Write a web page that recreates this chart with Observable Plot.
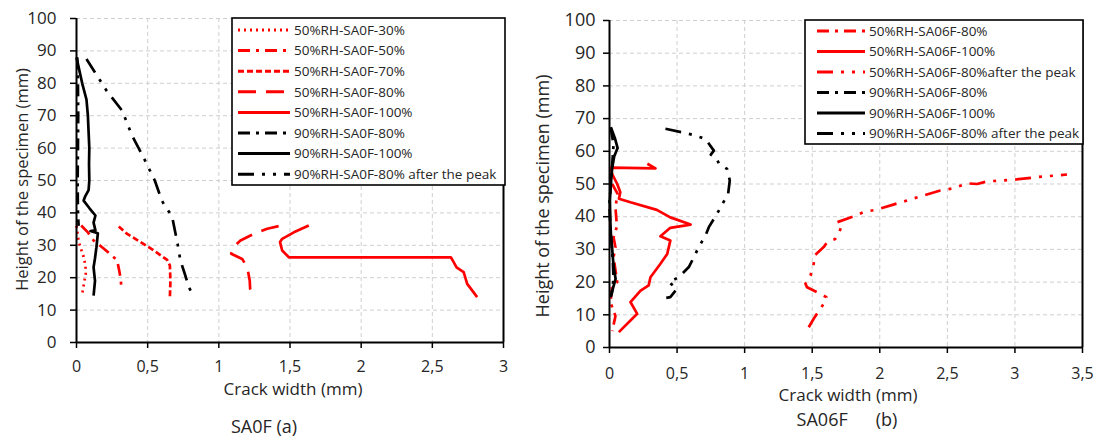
<!DOCTYPE html>
<html><head><meta charset="utf-8">
<script src="https://cdn.jsdelivr.net/npm/d3@7"></script>
<script src="https://cdn.jsdelivr.net/npm/@observablehq/plot@0.6"></script>
<style>
html,body{margin:0;padding:0;background:#fff;}
#wrap{position:relative;width:1100px;height:440px;overflow:hidden;background:#fff;}
#left{position:absolute;left:0;top:0;}
#right{position:absolute;left:520px;top:0;}
</style></head><body><div id="wrap"><div id="left"></div><div id="right"></div></div>
<script>
// ---------- tick labels / texts ----------
const xTicksA = [0, 0.5, 1, 1.5, 2, 2.5, 3];
const xTicksB = [0, 0.5, 1, 1.5, 2, 2.5, 3, 3.5];
const yTicks = [0, 10, 20, 30, 40, 50, 60, 70, 80, 90, 100];
const xLabel = "Crack width (mm)";
const yLabel = "Height of the specimen (mm)";
const captionA = "SA0F (a)";
const captionB = "SA06F      (b)";

// ---------- panel (a) SA0F : [crack width mm, height mm] ----------
const namesA = ["50%RH-SA0F-30%", "50%RH-SA0F-50%", "50%RH-SA0F-70%", "50%RH-SA0F-80%",
  "50%RH-SA0F-100%", "90%RH-SA0F-80%", "90%RH-SA0F-100%", "90%RH-SA0F-80% after the peak"];
const a50_30 = [[0.0,36],[0.016,31],[0.047,26.9],[0.063,23.8],[0.065,21],[0.056,19.1],[0.04,15]];
const a50_50 = [[0.033,36.1],[0.08,34],[0.12,31.5],[0.18,29.4],[0.234,27.4],[0.286,25.3],[0.30,22.2],[0.31,19.7],[0.316,16.6]];
const a50_70 = [[0.297,35.8],[0.356,33.5],[0.45,31],[0.543,28.4],[0.637,25.5],[0.656,23.8],[0.66,19.1],[0.656,13.8]];
const a50_80 = [[1.42,35.9],[1.34,35.1],[1.246,33.5],[1.152,31.5],[1.105,29.6],[1.087,27.4],[1.164,25.8],[1.2,23.2],[1.217,19.1],[1.22,16.6],[1.24,13.5]];
const a50_100 = [[1.632,36.1],[1.527,34],[1.445,32],[1.43,31],[1.445,28.4],[1.492,26.3],[2.63,26.3],[2.65,24.8],[2.67,23.2],[2.72,21.7],[2.745,18.1],[2.815,14]];
const a90_80 = [[0.005,88],[0.01,80],[0.012,70],[0.01,60],[0.008,50],[0.01,40],[0.015,36]];
const a90_100 = [[0.0,88],[0.02,84],[0.04,80],[0.07,75],[0.08,70],[0.085,65],[0.09,60],[0.088,55],[0.09,50],[0.085,47],[0.06,45],[0.05,43.8],[0.09,41.5],[0.133,39.2],[0.12,37],[0.133,34.6],[0.098,34.4],[0.15,33.7],[0.14,29.4],[0.13,26],[0.12,23.2],[0.13,19],[0.12,14.5]];
const a90_80peak = [[0.07,87.5],[0.21,77.8],[0.32,71.6],[0.39,63.9],[0.47,57.2],[0.55,50],[0.60,43.8],[0.625,41.8],[0.67,39.2],[0.71,30.5],[0.73,25.3],[0.76,21.3],[0.79,17],[0.82,14.5]];

// ---------- panel (b) SA06F ----------
const namesB = ["50%RH-SA06F-80%", "50%RH-SA06F-100%", "50%RH-SA06F-80%after the peak",
  "90%RH-SA06F-80%", "90%RH-SA06F-100%", "90%RH-SA06F-80% after the peak"];
const b50_80 = [[0.02,50],[0.06,47],[0.044,42.9],[0.055,37],[0.03,33.7],[0.044,30.6],[0.03,27.6],[0.057,20],[0.02,18.8],[0.007,13.8],[0.044,9.6],[0.02,5]];
const b50_100 = [[0.28,56.2],[0.34,54.8],[0.01,55],[0.02,53],[0.057,50],[0.08,47.5],[0.07,45.5],[0.155,44.4],[0.35,42.1],[0.45,39.8],[0.6,37.6],[0.45,36.6],[0.377,34],[0.45,32.7],[0.427,28.6],[0.377,25.6],[0.303,21.5],[0.29,19],[0.23,17.4],[0.155,13.9],[0.205,10.3],[0.168,8.8],[0.069,4.7]];
const b50_80peak = [[1.474,6.2],[1.511,8.8],[1.585,13.4],[1.605,15.4],[1.536,16.9],[1.462,18.4],[1.45,19.5],[1.487,22],[1.511,25.6],[1.516,28.1],[1.585,30.7],[1.61,32.2],[1.67,33.2],[1.696,34.8],[1.714,36.8],[1.684,38.3],[1.807,40.1],[1.88,41.4],[1.98,42.2],[2.10,43.7],[2.325,46.5],[2.448,48],[2.547,48.7],[2.646,50.2],[2.72,50],[2.794,50.8],[2.99,51.3],[3.163,52.1],[3.385,52.9]];
const b90_80 = [[0.01,67],[0.03,62],[0.02,56],[0.01,50],[0.0,44],[0.005,38],[0.015,32],[0.025,26],[0.03,21],[0.015,16]];
const b90_100 = [[0.01,67.4],[0.04,64],[0.06,61],[0.035,58.5],[0.02,55],[0.01,50],[0.003,45],[0.005,40],[0.01,35],[0.02,30],[0.03,25],[0.045,21],[0.025,18],[0.01,15.4]];
const b90_80peak = [[0.414,66.9],[0.562,65.6],[0.636,64.8],[0.71,63.8],[0.772,60.2],[0.75,59],[0.79,58],[0.81,56.2],[0.87,54.6],[0.89,51.1],[0.878,47],[0.833,43.7],[0.796,40.9],[0.735,36.8],[0.71,34.2],[0.66,30.7],[0.624,27.6],[0.587,24.6],[0.513,21.5],[0.439,20],[0.5,18],[0.45,15.4],[0.42,15.2]];

// ---------- styles ----------
const RED = "#ff0000", BLACK = "#000000";
const DASH_DOT = "12 6 3 6", DASH_DOT_DOT = "16 8 3 8 3 8";
const seriesA = [
  {name: namesA[0], data: a50_30, color: RED, dash: "2 4"},
  {name: namesA[1], data: a50_50, color: RED, dash: DASH_DOT},
  {name: namesA[2], data: a50_70, color: RED, dash: "6 3"},
  {name: namesA[3], data: a50_80, color: RED, dash: "18 10"},
  {name: namesA[4], data: a50_100, color: RED, dash: null},
  {name: namesA[5], data: a90_80, color: BLACK, dash: DASH_DOT},
  {name: namesA[6], data: a90_100, color: BLACK, dash: null},
  {name: namesA[7], data: a90_80peak, color: BLACK, dash: DASH_DOT_DOT}
];
const seriesB = [
  {name: namesB[0], data: b50_80, color: RED, dash: DASH_DOT},
  {name: namesB[1], data: b50_100, color: RED, dash: null},
  {name: namesB[2], data: b50_80peak, color: RED, dash: DASH_DOT_DOT},
  {name: namesB[3], data: b90_80, color: BLACK, dash: DASH_DOT},
  {name: namesB[4], data: b90_100, color: BLACK, dash: null},
  {name: namesB[5], data: b90_80peak, color: BLACK, dash: DASH_DOT_DOT}
];

const fmt = d => String(d).replace(".", ",");
const TXT = "#262626";

function panel(cfg) {
  const rows = cfg.series.flatMap(s => s.data.map(([w, h]) => ({name: s.name, w, h})));
  const lineMarks = cfg.series.map(s => Plot.line(rows.filter(r => r.name === s.name), {
    x: "w", y: "h", stroke: s.color, strokeWidth: 2.7,
    strokeDasharray: s.dash || undefined, strokeLinecap: "butt", strokeLinejoin: "round"
  }));
  const xMax = cfg.xTicks[cfg.xTicks.length - 1];
  const plot = Plot.plot({
    width: cfg.width, height: 440,
    marginLeft: cfg.mL, marginRight: cfg.mR, marginTop: cfg.mT, marginBottom: 440 - cfg.bottom,
    style: {fontFamily: "'Open Sans', sans-serif", fontSize: "16px", color: "#000", background: "#fff"},
    x: {domain: [0, xMax]},
    y: {domain: [0, 100]},
    marks: [
      Plot.gridX(cfg.xTicks, {stroke: "#cfcfcf", strokeOpacity: 1, strokeDasharray: "4 3", strokeWidth: 1}),
      Plot.gridY(yTicks, {stroke: "#cfcfcf", strokeOpacity: 1, strokeDasharray: "4 3", strokeWidth: 1}),
      ...lineMarks,
      Plot.ruleX([0], {stroke: "#000", strokeWidth: 2}),
      Plot.ruleX([xMax], {stroke: "#000", strokeWidth: 2}),
      Plot.ruleY([0], {stroke: "#000", strokeWidth: 2}),
      Plot.axisX(cfg.xTicks, {tickSize: 6, tickFormat: fmt, fontSize: 16, fill: TXT, label: null, strokeWidth: 1.5, text: null}),
      Plot.axisX(cfg.xTicks, {tickSize: 0, tickFormat: fmt, fontSize: 16, fill: TXT, label: null, dy: cfg.xDy}),
      Plot.axisY(yTicks, {tickSize: 6, fontSize: cfg.yFont, fill: TXT, label: null, strokeWidth: 1.5, text: null}),
      Plot.axisY(yTicks, {tickSize: 0, fontSize: cfg.yFont, fill: TXT, label: null, dx: cfg.yDx}),
      Plot.text([xLabel], {frameAnchor: "bottom", textAnchor: "middle", lineAnchor: "middle", dx: cfg.xLabDx, dy: cfg.xLabDy, fontSize: 17, fill: TXT}),
      Plot.text([cfg.caption], {frameAnchor: "bottom", textAnchor: "middle", lineAnchor: "middle", dx: cfg.capDx, dy: cfg.capDy, fontSize: 18, fill: TXT}),
      Plot.text([yLabel], {frameAnchor: "left", textAnchor: "middle", lineAnchor: "middle", rotate: -90, dx: cfg.yLabDx, dy: cfg.yLabDy, fontSize: cfg.yLabFont, fill: TXT})
    ]
  });
  // legend (inside plot, top right)
  const L = cfg.legend;
  const g = d3.select(plot).append("g");
  g.append("rect").attr("x", L.x).attr("y", L.y).attr("width", L.w).attr("height", L.h)
    .attr("fill", "#fff").attr("stroke", "#000").attr("stroke-width", 1.6);
  cfg.series.forEach((s, i) => {
    const cy = L.y + L.first + i * L.step;
    g.append("line").attr("x1", L.sx1).attr("x2", L.sx2).attr("y1", cy).attr("y2", cy)
      .attr("stroke", s.color).attr("stroke-width", 3)
      .attr("stroke-dasharray", s.dash || null);
    g.append("text").attr("x", L.tx).attr("y", cy).attr("dy", "0.35em")
      .attr("text-anchor", "start").attr("font-size", 13.5).attr("fill", TXT).text(s.name);
  });
  document.getElementById(cfg.el).appendChild(plot);
}

panel({el: "left", width: 520, mL: 76, mR: 17, mT: 18, bottom: 342, xTicks: xTicksA, series: seriesA,
  xDy: 9, yDx: -11, yFont: 17, yLabFont: 16.5, yLabDx: -54, yLabDy: -1,
  xLabDx: 3, xLabDy: 47, caption: captionA, capDx: -26, capDy: 85,
  legend: {x: 232, y: 18, w: 273, h: 167, first: 12, step: 20.6, sx1: 238, sx2: 290, tx: 294}});

panel({el: "right", width: 580, mL: 89, mR: 18, mT: 20, bottom: 347, xTicks: xTicksB, series: seriesB,
  xDy: 11, yDx: -5, yFont: 18, yLabFont: 18, yLabDx: -66, yLabDy: 12,
  xLabDx: 2, xLabDy: 48, caption: captionB, capDx: 1, capDy: 73,
  legend: {x: 285, y: 20, w: 278, h: 124, first: 11, step: 20.5, sx1: 297, sx2: 345, tx: 349}});
</script>
</body></html>
